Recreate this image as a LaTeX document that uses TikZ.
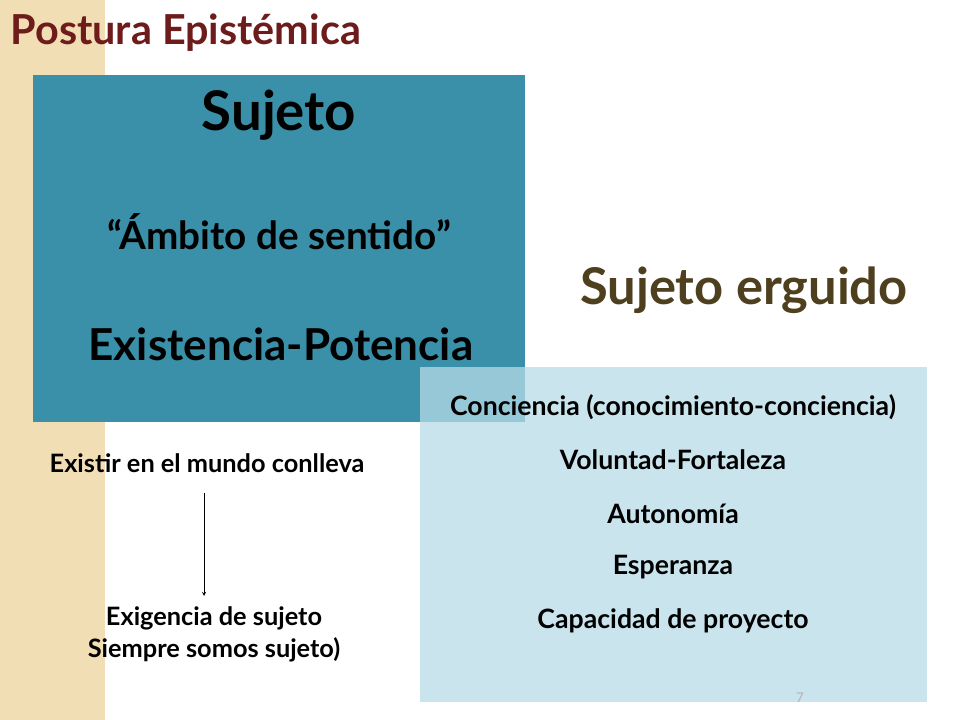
\documentclass[tikz,border=0pt]{standalone}
\usepackage{fontspec}
\setmainfont{Lato}
\definecolor{strip}{HTML}{F1DEB4}
\definecolor{dark}{HTML}{3A90A8}
\definecolor{light}{HTML}{B7DCE8}
\definecolor{titlec}{HTML}{6E1B1B}
\definecolor{olive}{HTML}{4E3F1E}
\tikzset{lbl/.style={font=\bfseries\fontsize{20}{24}\selectfont,align=center}}
\begin{document}
\begin{tikzpicture}[x=0.75pt,y=-0.75pt]
\useasboundingbox (0,0) rectangle (960,720);
\fill[strip] (0,0) rectangle (105,720);
\fill[white] (105,0) rectangle (960,720);
\node[anchor=west,text=titlec,font=\bfseries\fontsize{31}{36}\selectfont] (title) at (6,33) {Postura Epistémica};
\fill[dark] (33,75) rectangle (525,422);
\fill[light,opacity=0.75] (420,367) rectangle (927,702);
\node[font=\bfseries\fontsize{41}{46}\selectfont] (suj) at (279,115) {Sujeto};
\node[font=\bfseries\fontsize{29}{34}\selectfont] (amb) at (279,232) {“Ámbito de sentido”};
\node[font=\bfseries\fontsize{33}{38}\selectfont] (exi) at (281,344) {Existencia-Potencia};
\node[text=olive,font=\bfseries\fontsize{38}{44}\selectfont] (erg) at (744,290) {Sujeto erguido};
\node[lbl] (c1) at (673,407) {Conciencia (conocimiento-conciencia)};
\node[lbl] (c2) at (673,460) {Voluntad-Fortaleza};
\node[lbl] (c3) at (673,514) {Autonomía};
\node[lbl] (c4) at (673,567) {Esperanza};
\node[lbl] (c5) at (673,621) {Capacidad de proyecto};
\node[lbl,font=\bfseries\fontsize{19}{23}\selectfont] (ex) at (207,463) {Existir en el mundo conlleva};
\node[lbl,font=\bfseries\fontsize{19}{24}\selectfont] (eg) at (214,634) {Exigencia de sujeto\\Siempre somos sujeto)};
\coordinate (a1) at (204,493);
\coordinate (a2) at (204,596);
\draw[-stealth] (a1) -- (a2);
\node[text=gray!60,font=\fontsize{10}{12}\selectfont] (pg) at (800,698) {7};
\end{tikzpicture}
\end{document}
